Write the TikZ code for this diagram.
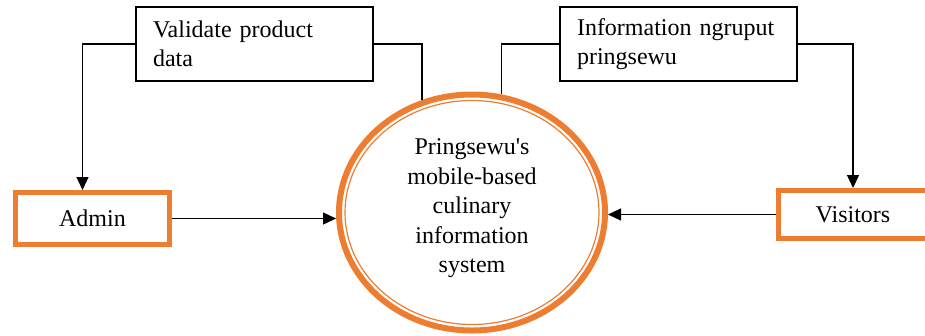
\documentclass[tikz,border=0pt]{standalone}
\usepackage{fontspec}
\setmainfont{Liberation Serif}
\usetikzlibrary{arrows.meta,shapes.geometric}
\definecolor{wordorange}{HTML}{ED7D31}
\tikzset{
  flowbox/.style={draw, line width=1.5pt, minimum width=237pt, minimum height=74pt,
    text width=203pt, inner xsep=17pt, align=left},
  entity/.style={draw=wordorange, line width=5pt, minimum width=154pt, minimum height=52pt},
  link/.style={line width=1.4pt},
  arr/.style={link, -{Triangle[length=13pt,width=12pt]}}
}
\begin{document}
\begin{tikzpicture}[x=1pt,y=-1pt,font=\fontsize{24}{29.5}\selectfont]
\useasboundingbox (0,0) rectangle (925,335);
            \node[flowbox] (validate) at (254.5,44) {Validate product\\data};
            \node[flowbox] (info) at (678.5,44) {Information ngruput\\pringsewu};
            \node[entity] (admin) at (92.5,218.5) {Admin};
            \node[entity, minimum width=149pt, minimum height=48pt] (visitors) at (853,214.5) {Visitors};
            \node[ellipse, draw=wordorange, line width=6pt, minimum width=266pt,
                  minimum height=236pt, inner sep=0pt, align=center] (sys) at (472,212.5)
                  {\\[-22pt]Pringsewu\textquotesingle s\\mobile-based\\culinary\\information\\system};
            \draw[wordorange, line width=1.2pt] (sys.center) ellipse [x radius=127pt, y radius=112pt];
            \draw[arr] (validate.west) -| ([xshift=-10pt]admin.north);
            \draw[link] (validate.east) -| (sys.114);
            \draw[link] (info.west) -| (sys.76);
            \draw[arr] (info.east) -| (visitors.north);
            \draw[arr] (admin.east) -- (admin.east -| sys.west);
            \draw[arr] (visitors.west) -- (visitors.west -| sys.east);
\end{tikzpicture}
\end{document}
